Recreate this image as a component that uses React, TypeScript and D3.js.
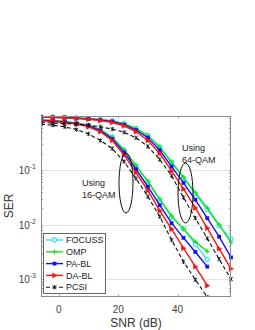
import React, { useEffect, useRef } from "react";
import * as d3 from "d3";

// SNR grids (dB)
const snr16 = [-6, -2, 2, 6, 10, 14, 18, 22, 26, 30, 34, 38, 42, 46, 50];
const snr64 = [-6, -2, 2, 6, 10, 14, 18, 22, 26, 30, 34, 38, 42, 46, 50, 54, 58];

// 16-QAM SER
const focuss16 = [0.851, 0.832, 0.794, 0.741, 0.676, 0.562, 0.407, 0.234, 0.12, 0.0617, 0.0288, 0.0138, 0.00851, 0.00437, 0.00229];
const omp16 = [0.851, 0.832, 0.794, 0.741, 0.676, 0.562, 0.407, 0.24, 0.123, 0.0631, 0.0295, 0.0145, 0.00832, 0.0049, 0.00324];
const pabl16 = [0.832, 0.813, 0.776, 0.724, 0.661, 0.537, 0.38, 0.214, 0.105, 0.0501, 0.0229, 0.0107, 0.00575, 0.00316, 0.0017];
const dabl16 = [0.813, 0.794, 0.759, 0.708, 0.631, 0.513, 0.355, 0.191, 0.0912, 0.0427, 0.0182, 0.00832, 0.00372, 0.0017, 0.000759];
const pcsi16 = [0.708, 0.676, 0.631, 0.562, 0.468, 0.355, 0.251, 0.145, 0.0708, 0.0331, 0.0141, 0.00525, 0.00209, 0.000977, 0.000468];

// 64-QAM SER
const focuss64 = [0.966, 0.955, 0.944, 0.923, 0.902, 0.861, 0.813, 0.724, 0.589, 0.437, 0.269, 0.141, 0.0724, 0.0372, 0.0191, 0.00955, 0.0055];
const omp64 = [0.966, 0.955, 0.944, 0.923, 0.902, 0.861, 0.813, 0.724, 0.589, 0.437, 0.269, 0.141, 0.0741, 0.0389, 0.0204, 0.01, 0.00468];
const pabl64 = [0.955, 0.944, 0.933, 0.912, 0.881, 0.841, 0.794, 0.692, 0.55, 0.398, 0.234, 0.117, 0.0589, 0.0288, 0.0132, 0.00603, 0.00251];
const dabl64 = [0.944, 0.933, 0.923, 0.902, 0.871, 0.822, 0.759, 0.661, 0.513, 0.355, 0.204, 0.0977, 0.0457, 0.0204, 0.00871, 0.00363, 0.00155];
const pcsi64 = [0.759, 0.741, 0.724, 0.708, 0.676, 0.631, 0.575, 0.501, 0.398, 0.275, 0.158, 0.0794, 0.0316, 0.0132, 0.00562, 0.00234, 0.001];

const legendLabels = ["FOCUSS", "OMP", "PA-BL", "DA-BL", "PCSI"];
const xTicks = [0, 20, 40];
const yTicks = [1e-3, 1e-2, 1e-1];
const yTickExp = ["-3", "-2", "-1"];

const seriesStyle = [
  { color: "#2ee3f2", shape: "circle", dash: null },
  { color: "#1fe01f", shape: "plus", dash: null },
  { color: "#1010ff", shape: "square", dash: null },
  { color: "#ff1010", shape: "tri", dash: null },
  { color: "#111111", shape: "star", dash: "4,2.5" },
];
const seriesData = [
  [focuss16, focuss64],
  [omp16, omp64],
  [pabl16, pabl64],
  [dabl16, dabl64],
  [pcsi16, pcsi64],
];

const drawMarker = (g: any, shape: string, color: string, cx: number, cy: number) => {
  if (shape === "circle") {
    g.append("circle").attr("cx", cx).attr("cy", cy).attr("r", 2.1)
      .attr("fill", "white").attr("stroke", color).attr("stroke-width", 1.1);
  } else if (shape === "plus") {
    g.append("path").attr("d", `M${cx - 2.4},${cy}H${cx + 2.4}M${cx},${cy - 2.4}V${cy + 2.4}`)
      .attr("stroke", color).attr("stroke-width", 1.1);
  } else if (shape === "square") {
    g.append("rect").attr("x", cx - 1.9).attr("y", cy - 1.9).attr("width", 3.8).attr("height", 3.8)
      .attr("fill", color);
  } else if (shape === "tri") {
    g.append("path").attr("d", `M${cx - 2},${cy - 2.5}L${cx + 2.6},${cy}L${cx - 2},${cy + 2.5}Z`)
      .attr("fill", color).attr("stroke", color).attr("stroke-width", 0.5);
  } else {
    g.append("path")
      .attr("d", `M${cx - 1.8},${cy - 1.8}L${cx + 1.8},${cy + 1.8}M${cx - 1.8},${cy + 1.8}L${cx + 1.8},${cy - 1.8}M${cx},${cy - 2.2}V${cy + 2.2}`)
      .attr("stroke", color).attr("stroke-width", 0.9);
  }
};

const App = () => {
  const ref = useRef<SVGSVGElement>(null);

  useEffect(() => {
    const svg = d3.select(ref.current);
    svg.selectAll("*").remove();

    const left = 41, right = 231, top = 116, bottom = 297;
    const x = d3.scaleLinear().domain([-6, 58]).range([left, right]);
    const y = d3.scaleLog().domain([4.7e-4, 1]).range([bottom, top]);

    svg.append("rect").attr("width", 255).attr("height", 330).attr("fill", "white");

    // grid
    svg.append("g").selectAll("line").data(yTicks).enter().append("line")
      .attr("x1", left).attr("x2", right)
      .attr("y1", (d) => Math.round(y(d)) + 0.5).attr("y2", (d) => Math.round(y(d)) + 0.5)
      .attr("stroke", "#e4e4e4").attr("stroke-width", 1);

    // minor/major ticks on y (log)
    const minor: number[] = [];
    [1e-4, 1e-3, 1e-2, 1e-1].forEach((dec) => {
      for (let k = 1; k < 10; k++) {
        const v = dec * k;
        if (v >= 4.7e-4 && v <= 1) minor.push(v);
      }
    });
    const tg = svg.append("g").attr("stroke", "#8c8c8c").attr("stroke-width", 0.8);
    minor.forEach((v) => {
      const yy = Math.round(y(v)) + 0.5;
      tg.append("line").attr("x1", left).attr("x2", left + 2).attr("y1", yy).attr("y2", yy);
      tg.append("line").attr("x1", right - 2).attr("x2", right).attr("y1", yy).attr("y2", yy);
    });
    xTicks.forEach((v) => {
      const xx = Math.round(x(v)) + 0.5;
      tg.append("line").attr("x1", xx).attr("x2", xx).attr("y1", bottom).attr("y2", bottom - 2.5);
      tg.append("line").attr("x1", xx).attr("x2", xx).attr("y1", top).attr("y2", top + 2.5);
    });

    svg.append("defs").append("clipPath").attr("id", "plotclip")
      .append("rect").attr("x", left).attr("y", top - 4).attr("width", right - left + 4).attr("height", bottom - top + 4);

    const plot = svg.append("g").attr("clip-path", "url(#plotclip)");

    seriesData.forEach((pair, i) => {
      const st = seriesStyle[i];
      [snr16, snr64].forEach((snr, j) => {
        const vals = pair[j];
        const pts: [number, number][] = snr.map((s, k) => [s, vals[k]]);
        const line = d3.line<[number, number]>().x((d) => x(d[0])).y((d) => y(d[1]));
        plot.append("path").attr("d", line(pts) as string)
          .attr("fill", "none").attr("stroke", st.color)
          .attr("stroke-width", st.dash ? 1.1 : 1.4)
          .attr("stroke-dasharray", st.dash ?? null);
        const mg = plot.append("g");
        pts.forEach((p) => drawMarker(mg, st.shape, st.color, x(p[0]), y(p[1])));
      });
    });

    // axes box
    svg.append("rect").attr("x", left + 0.5).attr("y", top + 0.5)
      .attr("width", right - left - 1).attr("height", bottom - top - 1)
      .attr("fill", "none").attr("stroke", "#8c8c8c").attr("stroke-width", 1);

    // tick labels
    const font = "Liberation Sans, Arial, sans-serif";
    svg.append("g").selectAll("text").data(xTicks).enter().append("text")
      .attr("x", (d) => x(d)).attr("y", 313)
      .attr("text-anchor", "middle").attr("font-family", font).attr("font-size", 10)
      .attr("fill", "#444").text((d) => d);

    yTicks.forEach((v, i) => {
      const t = svg.append("text").attr("x", 36).attr("y", y(v) + 4)
        .attr("text-anchor", "end").attr("font-family", font).attr("font-size", 10).attr("fill", "#444");
      t.append("tspan").text("10");
      t.append("tspan").attr("dy", -5).attr("font-size", 7).text(yTickExp[i]);
    });

    svg.append("text").attr("x", 136).attr("y", 327).attr("text-anchor", "middle")
      .attr("font-family", font).attr("font-size", 12).attr("fill", "#333").text("SNR (dB)");
    svg.append("text").attr("transform", "translate(13,206) rotate(-90)").attr("text-anchor", "middle")
      .attr("font-family", font).attr("font-size", 12).attr("fill", "#333").text("SER");

    // annotations
    const ann = svg.append("g").attr("font-family", font).attr("font-size", 9).attr("fill", "#222");
    ann.append("text").attr("x", 82).attr("y", 186).text("Using");
    ann.append("text").attr("x", 82).attr("y", 198).text("16-QAM");
    ann.append("text").attr("x", 182).attr("y", 151).text("Using");
    ann.append("text").attr("x", 182).attr("y", 163).text("64-QAM");
    svg.append("ellipse").attr("cx", 126).attr("cy", 183).attr("rx", 7).attr("ry", 30)
      .attr("fill", "none").attr("stroke", "#111").attr("stroke-width", 1);
    svg.append("ellipse").attr("cx", 185.5).attr("cy", 193).attr("rx", 7.5).attr("ry", 30)
      .attr("fill", "none").attr("stroke", "#111").attr("stroke-width", 1);

    // legend
    const lg = svg.append("g");
    lg.append("rect").attr("x", 43.5).attr("y", 233.5).attr("width", 62).attr("height", 60)
      .attr("fill", "white").attr("stroke", "#666").attr("stroke-width", 1);
    legendLabels.forEach((name, i) => {
      const st = seriesStyle[i];
      const yy = 240 + i * 11.8;
      lg.append("line").attr("x1", 46).attr("x2", 63).attr("y1", yy).attr("y2", yy)
        .attr("stroke", st.color).attr("stroke-width", st.dash ? 1.1 : 1.4)
        .attr("stroke-dasharray", st.dash ?? null);
      drawMarker(lg, st.shape, st.color, 54.5, yy);
      lg.append("text").attr("x", 66).attr("y", yy + 3.2).attr("font-family", font)
        .attr("font-size", 9).attr("fill", "#222").text(name);
    });
  }, []);

  return <svg ref={ref} width={255} height={330} style={{ position: "absolute", left: 0, top: 0 }} />;
};

export default App;
